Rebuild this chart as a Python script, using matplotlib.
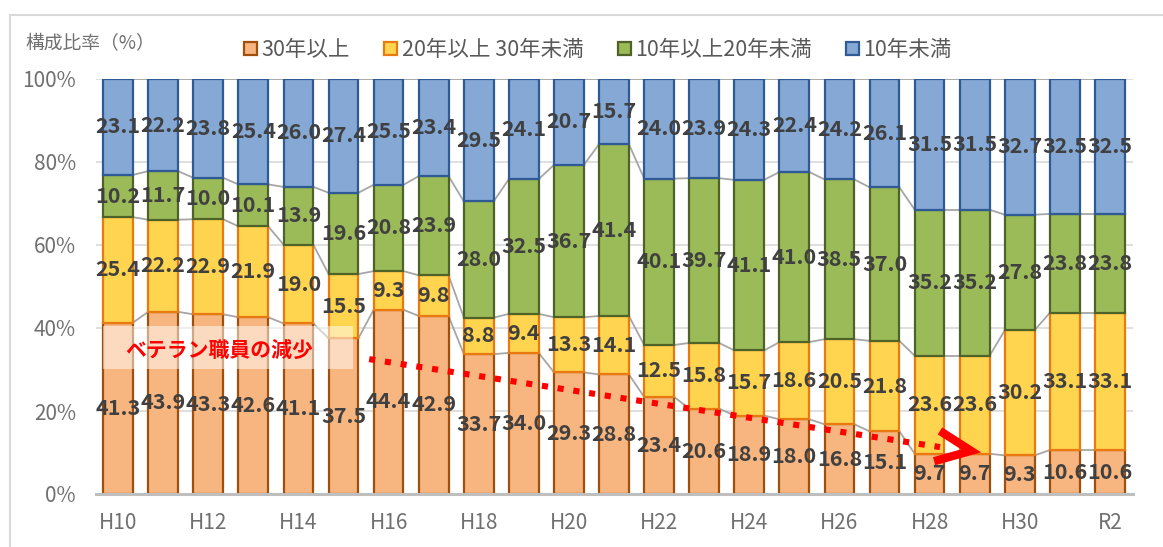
import matplotlib
matplotlib.use("Agg")
import matplotlib.pyplot as plt
import numpy as np
from matplotlib.patches import Patch, Rectangle
from matplotlib.lines import Line2D

plt.rcParams['font.family'] = ['Noto Sans CJK JP', 'DejaVu Sans']

categories = ["H10", "H11", "H12", "H13", "H14", "H15", "H16", "H17", "H18", "H19", "H20",
              "H21", "H22", "H23", "H24", "H25", "H26", "H27", "H28", "H29", "H30", "R1", "R2"]
tick_labels = ["H10", "", "H12", "", "H14", "", "H16", "", "H18", "", "H20", "",
               "H22", "", "H24", "", "H26", "", "H28", "", "H30", "", "R2"]
series_names = ["30年以上", "20年以上 30年未満", "10年以上20年未満", "10年未満"]
over30 = [41.3, 43.9, 43.3, 42.6, 41.1, 37.5, 44.4, 42.9, 33.7, 34.0, 29.3, 28.8,
          23.4, 20.6, 18.9, 18.0, 16.8, 15.1, 9.7, 9.7, 9.3, 10.6, 10.6]
y20to30 = [25.4, 22.2, 22.9, 21.9, 19.0, 15.5, 9.3, 9.8, 8.8, 9.4, 13.3, 14.1,
           12.5, 15.8, 15.7, 18.6, 20.5, 21.8, 23.6, 23.6, 30.2, 33.1, 33.1]
y10to20 = [10.2, 11.7, 10.0, 10.1, 13.9, 19.6, 20.8, 23.9, 28.0, 32.5, 36.7, 41.4,
           40.1, 39.7, 41.1, 41.0, 38.5, 37.0, 35.2, 35.2, 27.8, 23.8, 23.8]
under10 = [23.1, 22.2, 23.8, 25.4, 26.0, 27.4, 25.5, 23.4, 29.5, 24.1, 20.7, 15.7,
           24.0, 23.9, 24.3, 22.4, 24.2, 26.1, 31.5, 31.5, 32.7, 32.5, 32.5]

series = [over30, y20to30, y10to20, under10]
fills = ["#F7B580", "#FFD44F", "#9BBB59", "#85A8D4"]
edges = ["#A0500C", "#E97A10", "#4F6228", "#2F5A96"]

W, H = 1163, 547
fig = plt.figure(figsize=(W / 100, H / 100), dpi=100)
ax = fig.add_axes([95.5 / W, 1 - 494 / H, (1132.5 - 95.5) / W, (494 - 79) / H])

x = np.arange(len(categories))
width = 0.66
bottom = np.zeros(len(categories))
tops = []
for vals, fc, ec in zip(series, fills, edges):
    v = np.array(vals)
    ax.bar(x, v, width, bottom=bottom, color=fc, edgecolor=ec, linewidth=1.6, zorder=3)
    for xi, b, vi in zip(x, bottom, v):
        ax.text(xi, b + vi / 2, f"{vi:.1f}", ha="center", va="center", fontsize=15.5,
                fontweight="bold", color="#404040", zorder=6)
    bottom = bottom + v
    tops.append(bottom.copy())

# series lines
for t in tops:
    for i in range(len(x) - 1):
        ax.plot([x[i] + width / 2, x[i + 1] - width / 2], [t[i], t[i + 1]],
                color="#A6A6A6", lw=1.3, zorder=2)

ax.set_xlim(-0.5, len(categories) - 0.5)
ax.set_ylim(0, 100)
ax.set_yticks(np.arange(0, 101, 20))
ax.set_yticklabels([f"{v}%" for v in range(0, 101, 20)], fontsize=15, color="#707070")
ax.set_xticks(x)
ax.set_xticklabels(tick_labels, fontsize=15, color="#707070")
ax.tick_params(length=0)
ax.tick_params(axis="x", pad=13)
ax.tick_params(axis="y", pad=14)
ax.yaxis.grid(True, color="#D9D9D9", lw=1.2, zorder=0)
ax.set_axisbelow(True)
for s in ["top", "right", "left"]:
    ax.spines[s].set_visible(False)
ax.spines["bottom"].set_color("#BFBFBF")
ax.spines["bottom"].set_linewidth(2.2)
ax.spines["bottom"].set_zorder(5)

# annotation box and text
ax.add_patch(Rectangle((-0.33, 30.1), 5.55, 10.4, facecolor="white", alpha=0.5,
                       edgecolor="none", zorder=4))
ax.text(2.25, 34.6, "ベテラン職員の減少", color="#FF0000", fontsize=15, fontweight="bold",
        ha="center", va="center", zorder=7)

# dotted arrow
ax.plot([5.57, 18.23], [32.5, 11.3], color="#FF0000", lw=4.4, dashes=(1, 1.6),
        dash_capstyle="butt", zorder=7)
ax.plot([18.23, 18.92, 18.10], [15.2, 10.4, 7.9], color="#FF0000", lw=6,
        solid_capstyle="butt", solid_joinstyle="miter", zorder=7)

# y-axis title
fig.text(25 / W, 1 - 44 / H, "構成比率（%）", fontsize=13.5, color="#707070", ha="left", va="center")

# legend
handles = [Patch(facecolor=fc, edgecolor=ec, linewidth=1.6) for fc, ec in zip(fills, edges)]
fig.legend(handles, series_names, loc="center", bbox_to_anchor=(598 / W, 1 - 50 / H), ncol=4,
           frameon=False, fontsize=15.5, handlelength=0.6, handleheight=0.6,
           handletextpad=0.2, columnspacing=1.6, labelcolor="#595959")

# chart border (partially visible)
fig.add_artist(Line2D([10 / W, 10 / W], [1 - 15 / H, 0], color="#D9D9D9", lw=1.5,
                      transform=fig.transFigure))
fig.add_artist(Line2D([10 / W, 1], [1 - 15 / H, 1 - 15 / H], color="#D9D9D9", lw=1.5,
                      transform=fig.transFigure))

fig.savefig("out.png", dpi=100)
